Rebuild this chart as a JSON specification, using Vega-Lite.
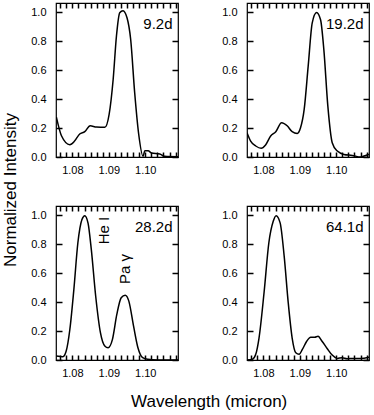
{
 "$schema": "https://vega.github.io/schema/vega-lite/v6.json",
 "padding": {"left": 1, "top": 1, "right": 2, "bottom": 2},
 "background": "white",
 "title": {"text": "Wavelength (micron)", "orient": "bottom", "anchor": "middle", "dx": 23, "offset": 15, "fontSize": 17, "font": "Liberation Sans", "fontWeight": "normal", "color": "#000"},
 "data": {"values": [
  {"day":"9.2d","w":1.0756,"y":0.276},{"day":"9.2d","w":1.0770,"y":0.147},{"day":"9.2d","w":1.0793,"y":0.085},{"day":"9.2d","w":1.0806,"y":0.11},{"day":"9.2d","w":1.0820,"y":0.159},{"day":"9.2d","w":1.0834,"y":0.175},{"day":"9.2d","w":1.0849,"y":0.216},{"day":"9.2d","w":1.0866,"y":0.207},{"day":"9.2d","w":1.0889,"y":0.205},{"day":"9.2d","w":1.0901,"y":0.297},{"day":"9.2d","w":1.0912,"y":0.538},{"day":"9.2d","w":1.0921,"y":0.837},{"day":"9.2d","w":1.0930,"y":0.998},{"day":"9.2d","w":1.0939,"y":1.012},{"day":"9.2d","w":1.0950,"y":0.963},{"day":"9.2d","w":1.0960,"y":0.814},{"day":"9.2d","w":1.0971,"y":0.446},{"day":"9.2d","w":1.0982,"y":0.159},{"day":"9.2d","w":1.0994,"y":0.005},{"day":"9.2d","w":1.0999,"y":0.043},{"day":"9.2d","w":1.1008,"y":0.043},{"day":"9.2d","w":1.1017,"y":0.028},{"day":"9.2d","w":1.1040,"y":0.021},{"day":"9.2d","w":1.1053,"y":0.005},{"day":"9.2d","w":1.1090,"y":0.002},
  {"day":"19.2d","w":1.0755,"y":0.168},{"day":"19.2d","w":1.0765,"y":0.110},{"day":"19.2d","w":1.0779,"y":0.076},{"day":"19.2d","w":1.0794,"y":0.060},{"day":"19.2d","w":1.0806,"y":0.083},{"day":"19.2d","w":1.0820,"y":0.145},{"day":"19.2d","w":1.0834,"y":0.175},{"day":"19.2d","w":1.0850,"y":0.237},{"day":"19.2d","w":1.0866,"y":0.214},{"day":"19.2d","w":1.0879,"y":0.175},{"day":"19.2d","w":1.0893,"y":0.163},{"day":"19.2d","w":1.0902,"y":0.202},{"day":"19.2d","w":1.0912,"y":0.329},{"day":"19.2d","w":1.0923,"y":0.628},{"day":"19.2d","w":1.0934,"y":0.926},{"day":"19.2d","w":1.0946,"y":1.0},{"day":"19.2d","w":1.0957,"y":0.949},{"day":"19.2d","w":1.0966,"y":0.743},{"day":"19.2d","w":1.0977,"y":0.352},{"day":"19.2d","w":1.0989,"y":0.099},{"day":"19.2d","w":1.1003,"y":0.041},{"day":"19.2d","w":1.1021,"y":0.018},{"day":"19.2d","w":1.1044,"y":0.011},{"day":"19.2d","w":1.1067,"y":0.0},{"day":"19.2d","w":1.1081,"y":0.011},{"day":"19.2d","w":1.1090,"y":0.018},
  {"day":"28.2d","w":1.0756,"y":0.028},{"day":"28.2d","w":1.0774,"y":0.023},{"day":"28.2d","w":1.0783,"y":0.062},{"day":"28.2d","w":1.0793,"y":0.211},{"day":"28.2d","w":1.0804,"y":0.487},{"day":"28.2d","w":1.0815,"y":0.809},{"day":"28.2d","w":1.0826,"y":0.970},{"day":"28.2d","w":1.0834,"y":0.998},{"day":"28.2d","w":1.0843,"y":0.947},{"day":"28.2d","w":1.0852,"y":0.763},{"day":"28.2d","w":1.0864,"y":0.441},{"day":"28.2d","w":1.0877,"y":0.189},{"day":"28.2d","w":1.0889,"y":0.097},{"day":"28.2d","w":1.0898,"y":0.085},{"day":"28.2d","w":1.0910,"y":0.143},{"day":"28.2d","w":1.0922,"y":0.315},{"day":"28.2d","w":1.0934,"y":0.430},{"day":"28.2d","w":1.0945,"y":0.448},{"day":"28.2d","w":1.0955,"y":0.407},{"day":"28.2d","w":1.0968,"y":0.234},{"day":"28.2d","w":1.0980,"y":0.085},{"day":"28.2d","w":1.0993,"y":0.016},{"day":"28.2d","w":1.1007,"y":0.005},{"day":"28.2d","w":1.1034,"y":0.0},{"day":"28.2d","w":1.1090,"y":0.0},
  {"day":"64.1d","w":1.0755,"y":0.0},{"day":"64.1d","w":1.0770,"y":0.005},{"day":"64.1d","w":1.0779,"y":0.039},{"day":"64.1d","w":1.0788,"y":0.152},{"day":"64.1d","w":1.0802,"y":0.470},{"day":"64.1d","w":1.0815,"y":0.811},{"day":"64.1d","w":1.0827,"y":0.959},{"day":"64.1d","w":1.0835,"y":0.998},{"day":"64.1d","w":1.0846,"y":0.948},{"day":"64.1d","w":1.0857,"y":0.720},{"day":"64.1d","w":1.0868,"y":0.402},{"day":"64.1d","w":1.0879,"y":0.152},{"day":"64.1d","w":1.0889,"y":0.05},{"day":"64.1d","w":1.0898,"y":0.039},{"day":"64.1d","w":1.0907,"y":0.073},{"day":"64.1d","w":1.0919,"y":0.13},{"day":"64.1d","w":1.0930,"y":0.157},{"day":"64.1d","w":1.0941,"y":0.157},{"day":"64.1d","w":1.0950,"y":0.164},{"day":"64.1d","w":1.0961,"y":0.13},{"day":"64.1d","w":1.0975,"y":0.080},{"day":"64.1d","w":1.0989,"y":0.034},{"day":"64.1d","w":1.1003,"y":0.011},{"day":"64.1d","w":1.1016,"y":0.016},{"day":"64.1d","w":1.1030,"y":0.009},{"day":"64.1d","w":1.1048,"y":0.011},{"day":"64.1d","w":1.1067,"y":0.011},{"day":"64.1d","w":1.1090,"y":0.02},
  {"day":"28.2d","note":"He I","w":1.0887,"y":0.895},
  {"day":"28.2d","note":"Pa γ","w":1.0944,"y":0.63}
 ]},
 "transform": [
  {"calculate": "indexof(['9.2d','19.2d'], datum.day) >= 0 ? 'top' : 'bottom'", "as": "r"},
  {"calculate": "indexof(['9.2d','28.2d'], datum.day) >= 0 ? 'left' : 'right'", "as": "c"}
 ],
 "facet": {
  "row": {"field": "r", "type": "nominal", "sort": ["top", "bottom"],
    "header": {"title": "Normalized Intensity", "labels": false, "titleFontSize": 17, "titleFont": "Liberation Sans", "titleFontWeight": "normal", "titleColor": "#000", "titlePadding": 0}},
  "column": {"field": "c", "type": "nominal", "sort": ["left", "right"], "header": null}
 },
 "spacing": {"row": 28, "column": 41},
 "resolve": {"axis": {"x": "independent", "y": "independent"}},
 "spec": {
  "width": 122, "height": 154,
  "layer": [
   {"transform": [{"filter": "!datum.note"}],
    "mark": {"type": "line", "color": "#000", "strokeWidth": 1.5, "interpolate": "monotone", "clip": true},
    "encoding": {
     "x": {"field": "w", "type": "quantitative", "scale": {"domain": [1.0755, 1.109], "nice": false, "zero": false},
       "axis": {"orient": "bottom", "title": null, "values": [1.07667,1.07833,1.08,1.08167,1.08333,1.085,1.08667,1.08833,1.09,1.09167,1.09333,1.095,1.09667,1.09833,1.1,1.10167,1.10333,1.105,1.10667,1.10833],
         "labelExpr": "abs(datum.value*100 - round(datum.value*100)) < 0.01 ? format(datum.value, '.2f') : ''", "offset": -5, "tickSize": 5, "labelPadding": 7, "labelFlush": false, "labelOverlap": false}},
     "y": {"field": "y", "type": "quantitative", "scale": {"domain": [0, 1.065], "nice": false},
       "axis": {"orient": "left", "title": null, "values": [0,0.2,0.4,0.6,0.8,1.0], "format": ".1f", "offset": -6, "tickSize": 6, "labelPadding": 10, "labelFlush": false}}
    }},
   {"transform": [{"filter": "!datum.note"}],
    "mark": {"type": "line", "opacity": 0},
    "encoding": {
     "x": {"field": "w", "type": "quantitative", "scale": {"domain": [1.0755, 1.109], "nice": false, "zero": false},
       "axis": {"orient": "top", "title": null, "values": [1.07667,1.07833,1.08,1.08167,1.08333,1.085,1.08667,1.08833,1.09,1.09167,1.09333,1.095,1.09667,1.09833,1.1,1.10167,1.10333,1.105,1.10667,1.10833], "labels": false, "offset": -5, "tickSize": 5}},
     "y": {"field": "y", "type": "quantitative", "scale": {"domain": [0, 1.065], "nice": false},
       "axis": {"orient": "right", "title": null, "values": [0,0.2,0.4,0.6,0.8,1.0], "labels": false, "offset": -6, "tickSize": 6}}
    }},
   {"transform": [{"aggregate": [{"op": "count", "as": "n"}], "groupby": ["day", "r", "c"]}],
    "mark": {"type": "text", "align": "right", "baseline": "middle", "fontSize": 15, "font": "Liberation Sans", "color": "#000"},
    "encoding": {
     "x": {"datum": 1.1075, "type": "quantitative", "axis": null},
     "y": {"datum": 0.92, "type": "quantitative", "axis": null},
     "text": {"field": "day"}
    }},
   {"transform": [{"filter": "datum.note"}],
    "mark": {"type": "text", "angle": 270, "align": "center", "baseline": "middle", "fontSize": 15, "font": "Liberation Sans", "color": "#000"},
    "encoding": {
     "x": {"field": "w", "type": "quantitative", "axis": null},
     "y": {"field": "y", "type": "quantitative", "axis": null},
     "text": {"field": "note"}
    }}
  ],
  "resolve": {"axis": {"x": "independent", "y": "independent"}}
 },
 "config": {
  "view": {"stroke": "#000", "strokeWidth": 1.2},
  "axis": {"domain": false, "grid": false, "labelFont": "Liberation Sans", "labelFontSize": 11, "labelColor": "#000", "tickColor": "#000", "tickWidth": 1.5, "tickOpacity": 1, "ticks": true},
  "text": {"font": "Liberation Sans"}
 }
}
